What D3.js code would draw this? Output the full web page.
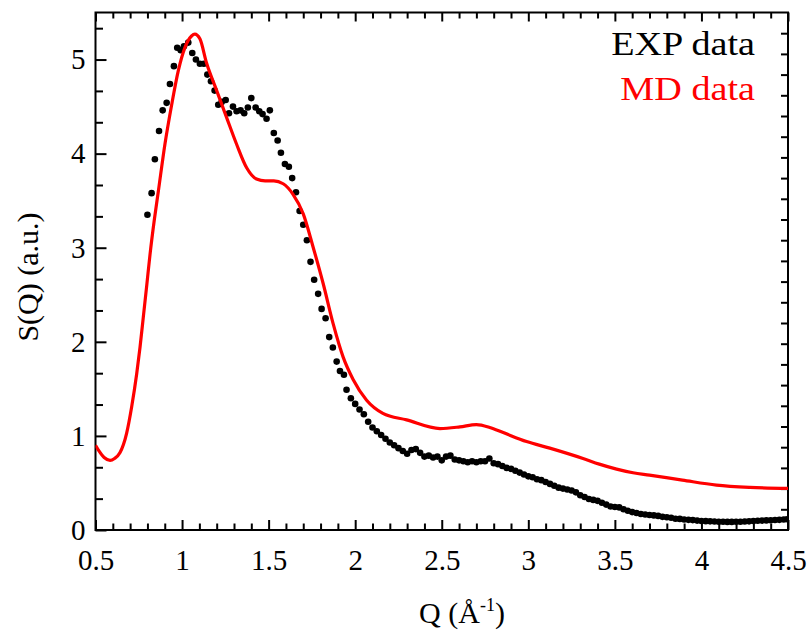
<!DOCTYPE html>
<html>
<head>
<meta charset="utf-8">
<script src="https://cdn.jsdelivr.net/npm/d3@7"></script>
<style>
  body { margin: 0; background: #fff; }
  svg { display: block; }
  svg text { font-family: 'Liberation Serif', Tinos, 'Times New Roman', Times, serif; }
</style>
</head>
<body>
<svg id="chart"></svg>
<script>
// EXP data (black dots), [Q, S(Q)]
const expData = [
  [0.800, 3.35], [0.824, 3.58], [0.843, 3.94], [0.867, 4.24], [0.888, 4.46],
  [0.911, 4.54], [0.930, 4.74], [0.953, 4.93], [0.972, 5.125], [0.992, 5.10],
  [1.011, 5.14], [1.036, 5.18], [1.059, 5.07], [1.080, 5.00], [1.103, 4.955],
  [1.126, 4.955], [1.146, 4.84], [1.167, 4.77], [1.188, 4.67], [1.209, 4.52],
  [1.229, 4.55], [1.252, 4.57], [1.271, 4.43], [1.294, 4.50], [1.315, 4.45],
  [1.338, 4.46], [1.359, 4.43], [1.380, 4.49], [1.400, 4.59], [1.425, 4.49],
  [1.446, 4.45], [1.465, 4.42], [1.488, 4.37], [1.507, 4.46], [1.530, 4.22],
  [1.552, 4.14], [1.571, 4.01], [1.594, 3.89], [1.617, 3.86], [1.636, 3.74],
  [1.658, 3.59], [1.679, 3.39], [1.700, 3.245], [1.721, 3.08], [1.742, 2.85],
  [1.763, 2.66], [1.786, 2.51], [1.806, 2.35], [1.829, 2.25], [1.850, 2.05],
  [1.871, 1.94], [1.893, 1.79], [1.912, 1.69], [1.935, 1.65],
  [1.950, 1.49], [1.975, 1.40], [2.000, 1.34], [2.025, 1.28], [2.050, 1.23],
  [2.075, 1.15], [2.100, 1.09], [2.125, 1.05], [2.150, 1.01], [2.175, 0.97],
  [2.200, 0.93], [2.225, 0.90], [2.250, 0.87], [2.275, 0.84], [2.300, 0.81],
  [2.325, 0.85], [2.350, 0.86], [2.375, 0.82], [2.400, 0.78], [2.425, 0.79],
  [2.450, 0.77], [2.475, 0.78], [2.500, 0.74], [2.525, 0.78], [2.550, 0.79],
  [2.575, 0.75], [2.600, 0.74], [2.625, 0.73], [2.650, 0.72], [2.675, 0.73],
  [2.700, 0.72], [2.725, 0.73], [2.750, 0.73], [2.775, 0.76], [2.800, 0.71],
  [2.825, 0.70], [2.850, 0.68], [2.875, 0.66], [2.900, 0.65], [2.925, 0.63],
  [2.950, 0.61], [2.975, 0.59], [3.000, 0.57], [3.025, 0.56], [3.050, 0.54],
  [3.075, 0.53], [3.100, 0.51], [3.125, 0.49], [3.150, 0.47], [3.175, 0.45],
  [3.200, 0.44], [3.225, 0.43], [3.250, 0.42], [3.275, 0.40], [3.300, 0.37],
  [3.325, 0.35], [3.350, 0.33], [3.375, 0.32], [3.400, 0.31], [3.425, 0.29],
  [3.450, 0.27], [3.475, 0.25], [3.500, 0.245], [3.525, 0.24], [3.550, 0.22],
  [3.575, 0.205], [3.600, 0.19], [3.625, 0.18], [3.650, 0.17], [3.675, 0.165],
  [3.700, 0.16], [3.725, 0.155], [3.750, 0.15], [3.775, 0.14], [3.800, 0.135],
  [3.825, 0.13], [3.850, 0.12], [3.875, 0.118], [3.900, 0.112], [3.925, 0.108],
  [3.950, 0.105], [3.975, 0.10], [4.000, 0.096], [4.025, 0.094], [4.050, 0.092],
  [4.075, 0.09], [4.100, 0.088], [4.125, 0.087], [4.150, 0.086], [4.175, 0.086],
  [4.200, 0.087], [4.225, 0.088], [4.250, 0.09], [4.275, 0.092], [4.300, 0.095],
  [4.325, 0.098], [4.350, 0.10], [4.375, 0.102], [4.400, 0.104], [4.425, 0.106],
  [4.450, 0.108], [4.475, 0.112], [4.495, 0.115]
];

// MD data (red line), [Q, S(Q)]
const mdData = [
  [0.50, 0.90], [0.52, 0.84], [0.55, 0.77], [0.584, 0.74], [0.61, 0.76],
  [0.641, 0.82], [0.68, 1.03], [0.709, 1.31], [0.738, 1.66], [0.757, 1.94],
  [0.776, 2.26], [0.796, 2.60], [0.815, 2.93], [0.84, 3.30], [0.863, 3.60],
  [0.901, 4.10], [0.94, 4.52], [0.978, 4.88], [1.017, 5.13], [1.055, 5.25],
  [1.074, 5.27], [1.103, 5.22], [1.142, 4.96], [1.20, 4.67], [1.258, 4.38],
  [1.315, 4.10], [1.373, 3.85], [1.43, 3.73], [1.48, 3.71], [1.53, 3.71],
  [1.584, 3.68], [1.64, 3.57], [1.70, 3.36], [1.758, 3.00], [1.815, 2.62],
  [1.873, 2.19], [1.93, 1.84], [1.988, 1.60], [2.066, 1.38], [2.16, 1.24],
  [2.297, 1.17], [2.49, 1.078], [2.605, 1.096], [2.70, 1.12], [2.777, 1.09],
  [2.855, 1.035], [2.99, 0.94], [3.124, 0.87], [3.316, 0.76], [3.41, 0.70],
  [3.51, 0.647], [3.605, 0.608], [3.70, 0.583], [3.89, 0.53], [4.087, 0.477],
  [4.28, 0.453], [4.50, 0.442]
];

const xMajor = [0.5, 1, 1.5, 2, 2.5, 3, 3.5, 4, 4.5];
const yMajor = [0, 1, 2, 3, 4, 5];
const legendLabels = ["EXP data", "MD data"];
const legendColors = ["#000", "#ff0000"];

const serif = "'Liberation Serif', Tinos, 'Times New Roman', Times, serif";

const width = 807, height = 641;
const margin = { left: 95.5, right: 19, top: 12.5, bottom: 111 };

const svg = d3.select("#chart").attr("width", width).attr("height", height);

const x = d3.scaleLinear().domain([0.5, 4.5]).range([margin.left, width - margin.right]);
const y = d3.scaleLinear().domain([0, 5.5]).range([height - margin.bottom, margin.top]);

const fmt = (d) => String(+d.toFixed(2));

// minor ticks
const xMinor = d3.range(5, 46).map((i) => i / 10).filter((v) => Math.abs(v * 2 - Math.round(v * 2)) > 1e-6);
const yMinor = d3.range(0, 17).map((i) => i / 3).filter((v) => Math.abs(v - Math.round(v)) > 1e-6);
const yRight = d3.range(1, 25).map((i) => (i * 5.5) / 25);

function styleAxis(g) {
  g.attr("font-family", serif);
  g.select(".domain").remove();
  g.selectAll("line").attr("stroke", "#000").attr("stroke-width", 2);
  g.selectAll("text").attr("fill", "#000").attr("font-size", 29).attr("font-family", serif);
}

// bottom
svg.append("g")
  .attr("transform", `translate(0,${y(0)})`)
  .call(d3.axisBottom(x).tickValues(xMinor).tickSize(-6.5).tickFormat(""))
  .call(styleAxis);
svg.append("g")
  .attr("transform", `translate(0,${y(0)})`)
  .call(d3.axisBottom(x).tickValues(xMajor).tickSize(-10).tickPadding(19).tickFormat(fmt))
  .call(styleAxis);

// top
svg.append("g")
  .attr("transform", `translate(0,${margin.top})`)
  .call(d3.axisTop(x).tickValues(xMinor).tickSize(-6).tickFormat(""))
  .call(styleAxis);
svg.append("g")
  .attr("transform", `translate(0,${margin.top})`)
  .call(d3.axisTop(x).tickValues(xMajor).tickSize(-9).tickFormat(""))
  .call(styleAxis);

// left
svg.append("g")
  .attr("transform", `translate(${margin.left},0)`)
  .call(d3.axisLeft(y).tickValues(yMinor).tickSize(-7.5).tickFormat(""))
  .call(styleAxis);
svg.append("g")
  .attr("transform", `translate(${margin.left},0)`)
  .call(d3.axisLeft(y).tickValues(yMajor).tickSize(-11).tickPadding(10).tickFormat(fmt))
  .call(styleAxis);

// right
svg.append("g")
  .attr("transform", `translate(${width - margin.right},0)`)
  .call(d3.axisRight(y).tickValues(yRight).tickSize(-7).tickFormat(""))
  .call(styleAxis);

// frame
svg.append("rect")
  .attr("x", margin.left).attr("y", margin.top)
  .attr("width", width - margin.left - margin.right)
  .attr("height", height - margin.top - margin.bottom)
  .attr("fill", "none").attr("stroke", "#000").attr("stroke-width", 2);

// clip
svg.append("clipPath").attr("id", "plotclip")
  .append("rect")
  .attr("x", margin.left).attr("y", margin.top)
  .attr("width", width - margin.left - margin.right)
  .attr("height", height - margin.top - margin.bottom);

const plot = svg.append("g").attr("clip-path", "url(#plotclip)");

// EXP dots
plot.append("g")
  .selectAll("circle")
  .data(expData)
  .enter()
  .append("circle")
  .attr("cx", (d) => x(d[0]))
  .attr("cy", (d) => y(d[1]))
  .attr("r", 3.3)
  .attr("fill", "#000");

// MD line
const line = d3.line()
  .x((d) => x(d[0]))
  .y((d) => y(d[1]))
  .curve(d3.curveMonotoneX);

plot.append("path")
  .datum(mdData)
  .attr("d", line)
  .attr("fill", "none")
  .attr("stroke", "#ff0000")
  .attr("stroke-width", 3.2);

// legend (text is a bit wider than normal in the original)
svg.append("g")
  .selectAll("text")
  .data(legendLabels)
  .enter()
  .append("text")
  .attr("transform", (d, i) => `translate(755,${55 + i * 45}) scale(1.14,1)`)
  .attr("text-anchor", "end")
  .attr("fill", (d, i) => legendColors[i])
  .attr("font-family", serif)
  .attr("font-size", 33.5)
  .text((d) => d);

// axis titles
svg.append("text")
  .attr("transform", "translate(38,277) rotate(-90)")
  .attr("text-anchor", "middle")
  .attr("font-family", serif)
  .attr("font-size", 30)
  .text("S(Q) (a.u.)");

const xt = svg.append("text")
  .attr("x", 462)
  .attr("y", 623)
  .attr("text-anchor", "middle")
  .attr("font-family", serif)
  .attr("font-size", 30);
xt.append("tspan").text("Q (Å");
xt.append("tspan").attr("dy", -12).attr("font-size", 18).text("-1");
xt.append("tspan").attr("dy", 12).text(")");
</script>
</body>
</html>
